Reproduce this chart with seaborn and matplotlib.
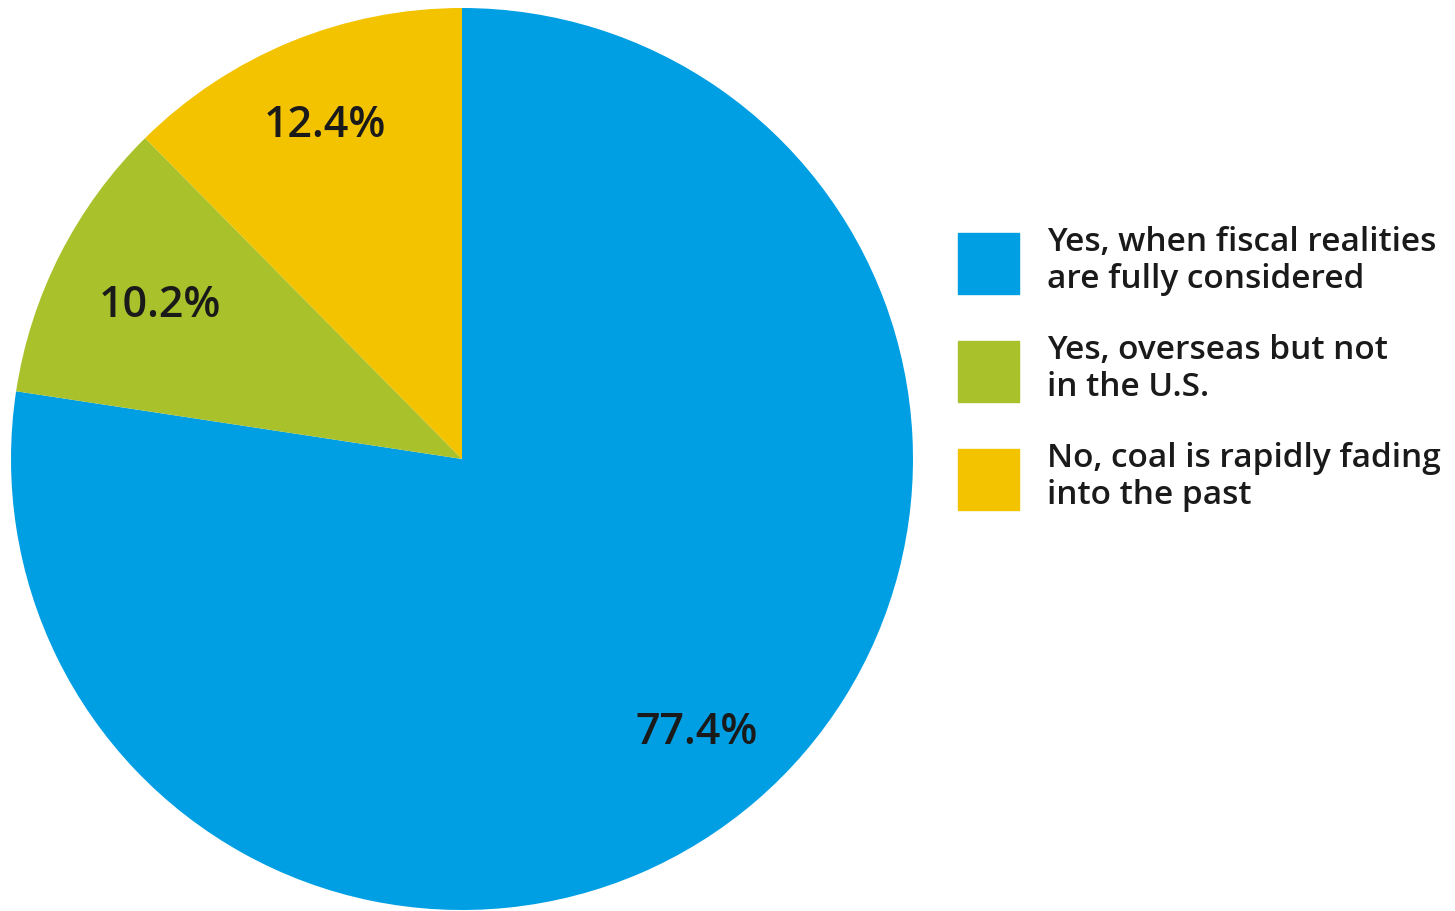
import matplotlib
matplotlib.use('Agg')
import matplotlib.pyplot as plt
import matplotlib.patches as mpatches
import seaborn as sns

# survey answers and their shares (%)
labels = ['Yes, when fiscal realities\nare fully considered',
          'Yes, overseas but not\nin the U.S.',
          'No, coal is rapidly fading\ninto the past']
shares = [77.4, 10.2, 12.4]
colors = ['#009FE3', '#A9C12A', '#F3C300']

sns.set_theme(style='white')
plt.rcParams['font.family'] = ['Open Sans', 'DejaVu Sans']

fig = plt.figure(figsize=(14.55, 9.11), dpi=100)
ax = fig.add_axes([11 / 1455, 1 / 911, 902 / 1455, 902 / 911])

wedges, texts, autotexts = ax.pie(shares, colors=colors, startangle=90, counterclock=False,
                                  autopct='%.1f%%', pctdistance=0.8, radius=1,
                                  wedgeprops=dict(linewidth=0))
for t in autotexts:
    t.set_fontsize(31)
    t.set_fontweight('semibold')
    t.set_color('#1a1a1a')
# the small green label sits a bit closer to the centre
x, y = autotexts[1].get_position()
autotexts[1].set_position((x * 0.94, y * 0.94))
ax.set_xlim(-1, 1)
ax.set_ylim(-1, 1)
ax.set_aspect('equal')
ax.axis('off')

handles = [mpatches.Patch(color=c) for c in colors]
leg = fig.legend(handles, labels, loc='upper left', bbox_to_anchor=(958 / 1455, 1 - 226 / 911),
                 frameon=False, prop=dict(size=24, weight='semibold'),
                 handlelength=1.83, handleheight=2.44, handletextpad=0.83,
                 labelspacing=1.15, borderpad=0, borderaxespad=0)
for t in leg.get_texts():
    t.set_color('#1a1a1a')
    t.set_linespacing(1.15)

fig.savefig('out.png', dpi=100)
